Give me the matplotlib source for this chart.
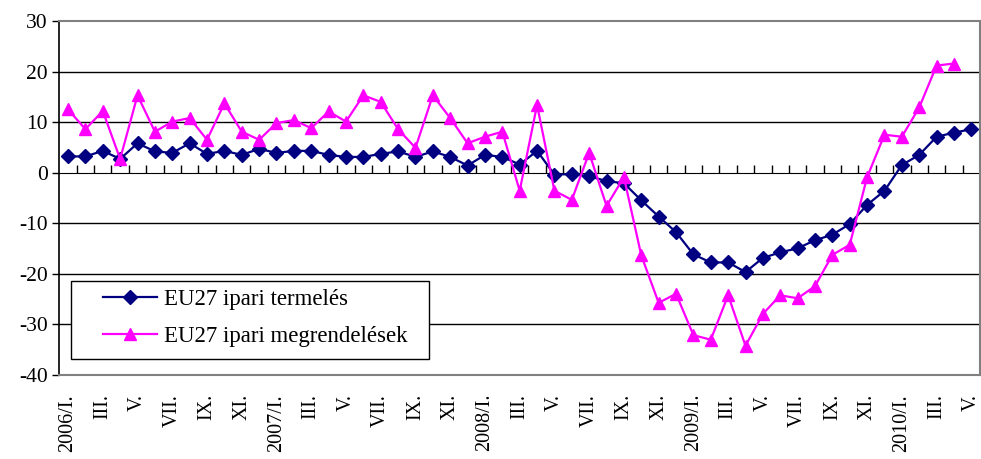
import matplotlib
matplotlib.use("Agg")
import matplotlib.pyplot as plt
from matplotlib.patches import Rectangle
import numpy as np

plt.rcParams["font.family"] = ["Liberation Serif", "DejaVu Serif"]
plt.rcParams["axes.unicode_minus"] = False

# havi kategóriák 2006/I. - 2010/V.
months = ["I.", "II.", "III.", "IV.", "V.", "VI.", "VII.", "VIII.", "IX.", "X.", "XI.", "XII."]
labels = []
for year in range(2006, 2011):
    for i, m in enumerate(months):
        if year == 2010 and i > 4:
            break
        labels.append("%d/%s" % (year, m) if i == 0 else m)

termeles = [3.2, 3.2, 4.3, 2.7, 5.8, 4.2, 3.9, 5.8, 3.7, 4.3, 3.5, 4.7,
            3.9, 4.3, 4.3, 3.5, 3.1, 3.1, 3.7, 4.2, 3.1, 4.2, 3.1, 1.4,
            3.5, 3.1, 1.6, 4.3, -0.4, -0.3, -0.7, -1.7, -2.1, -5.5, -8.7, -11.8,
            -16.2, -17.8, -17.8, -19.7, -16.9, -15.8, -15.0, -13.4, -12.3, -10.2, -6.4, -3.6,
            1.5, 3.5, 7.1, 7.9, 8.6]

megrendeles = [12.5, 8.6, 12.2, 2.7, 15.3, 8.1, 10.1, 10.8, 6.5, 13.7, 8.1, 6.5,
               9.8, 10.4, 8.8, 12.1, 10.1, 15.3, 14.0, 8.6, 4.9, 15.3, 10.8, 5.8,
               7.1, 8.1, -3.6, 13.4, -3.6, -5.4, 3.9, -6.6, -0.9, -16.4, -25.8, -24.0,
               -32.2, -33.1, -24.3, -34.3, -28.0, -24.3, -24.9, -22.5, -16.3, -14.3, -0.9, 7.5,
               7.1, 12.9, 21.2, 21.6]

x1 = np.arange(len(termeles))
x2 = np.arange(len(megrendeles))

fig = plt.figure(figsize=(9.81, 4.59), dpi=100)
ax = fig.add_axes([0.0605, 0.184, 0.9385, 0.770])

for v in [-30, -20, -10, 10, 20]:
    ax.axhline(v, color="black", lw=1.0, zorder=1)

ax.plot(x1, termeles, color="#000080", marker="D", markersize=7, lw=1.6,
        label="EU27 ipari termelés", zorder=3)
ax.plot(x2, megrendeles, color="#FF00FF", marker="^", markersize=9, lw=1.6,
        label="EU27 ipari megrendelések", zorder=3)

ax.set_xlim(-0.5, len(labels) - 0.5)
ax.set_ylim(-40, 30)
ax.set_yticks(np.arange(-40, 31, 10))
ax.tick_params(axis="y", labelsize=15.5, length=5, width=1, color="black")

ax.set_xticks(x1[::2])
ax.set_xticklabels(labels[::2], rotation=90, fontsize=14.5, va="top", ha="center")
ax.tick_params(axis="x", length=0, pad=14)

for s in ["top", "right", "bottom"]:
    ax.spines[s].set_color("#808080")
    ax.spines[s].set_linewidth(1.5)
ax.spines["left"].set_color("black")
ax.spines["left"].set_linewidth(1.2)

# nullvonal osztásokkal
zero = ax.secondary_xaxis(40 / 70)
zero.set_xticks(np.arange(0.5, len(labels) - 1, 1.0))
zero.tick_params(axis="x", direction="out", length=6, width=1, color="black", labelbottom=False, labeltop=False)
zero.spines["bottom"].set_color("#808080")
zero.spines["bottom"].set_linewidth(1.5)
zero.set_xticklabels([])

# jelmagyarázat keret
ax.add_patch(Rectangle((0.0127, 0.044), 0.389, 0.221, transform=ax.transAxes,
                       facecolor="white", edgecolor="black", lw=1.0, zorder=4))
leg = ax.legend(loc="center left", bbox_to_anchor=(0.0475, 0.159), frameon=False,
                fontsize=16.5, numpoints=1, handlelength=2.35, handletextpad=0.3,
                labelspacing=0.7, borderpad=0, borderaxespad=0)
leg.set_zorder(5)

fig.savefig("out.png", dpi=100)
